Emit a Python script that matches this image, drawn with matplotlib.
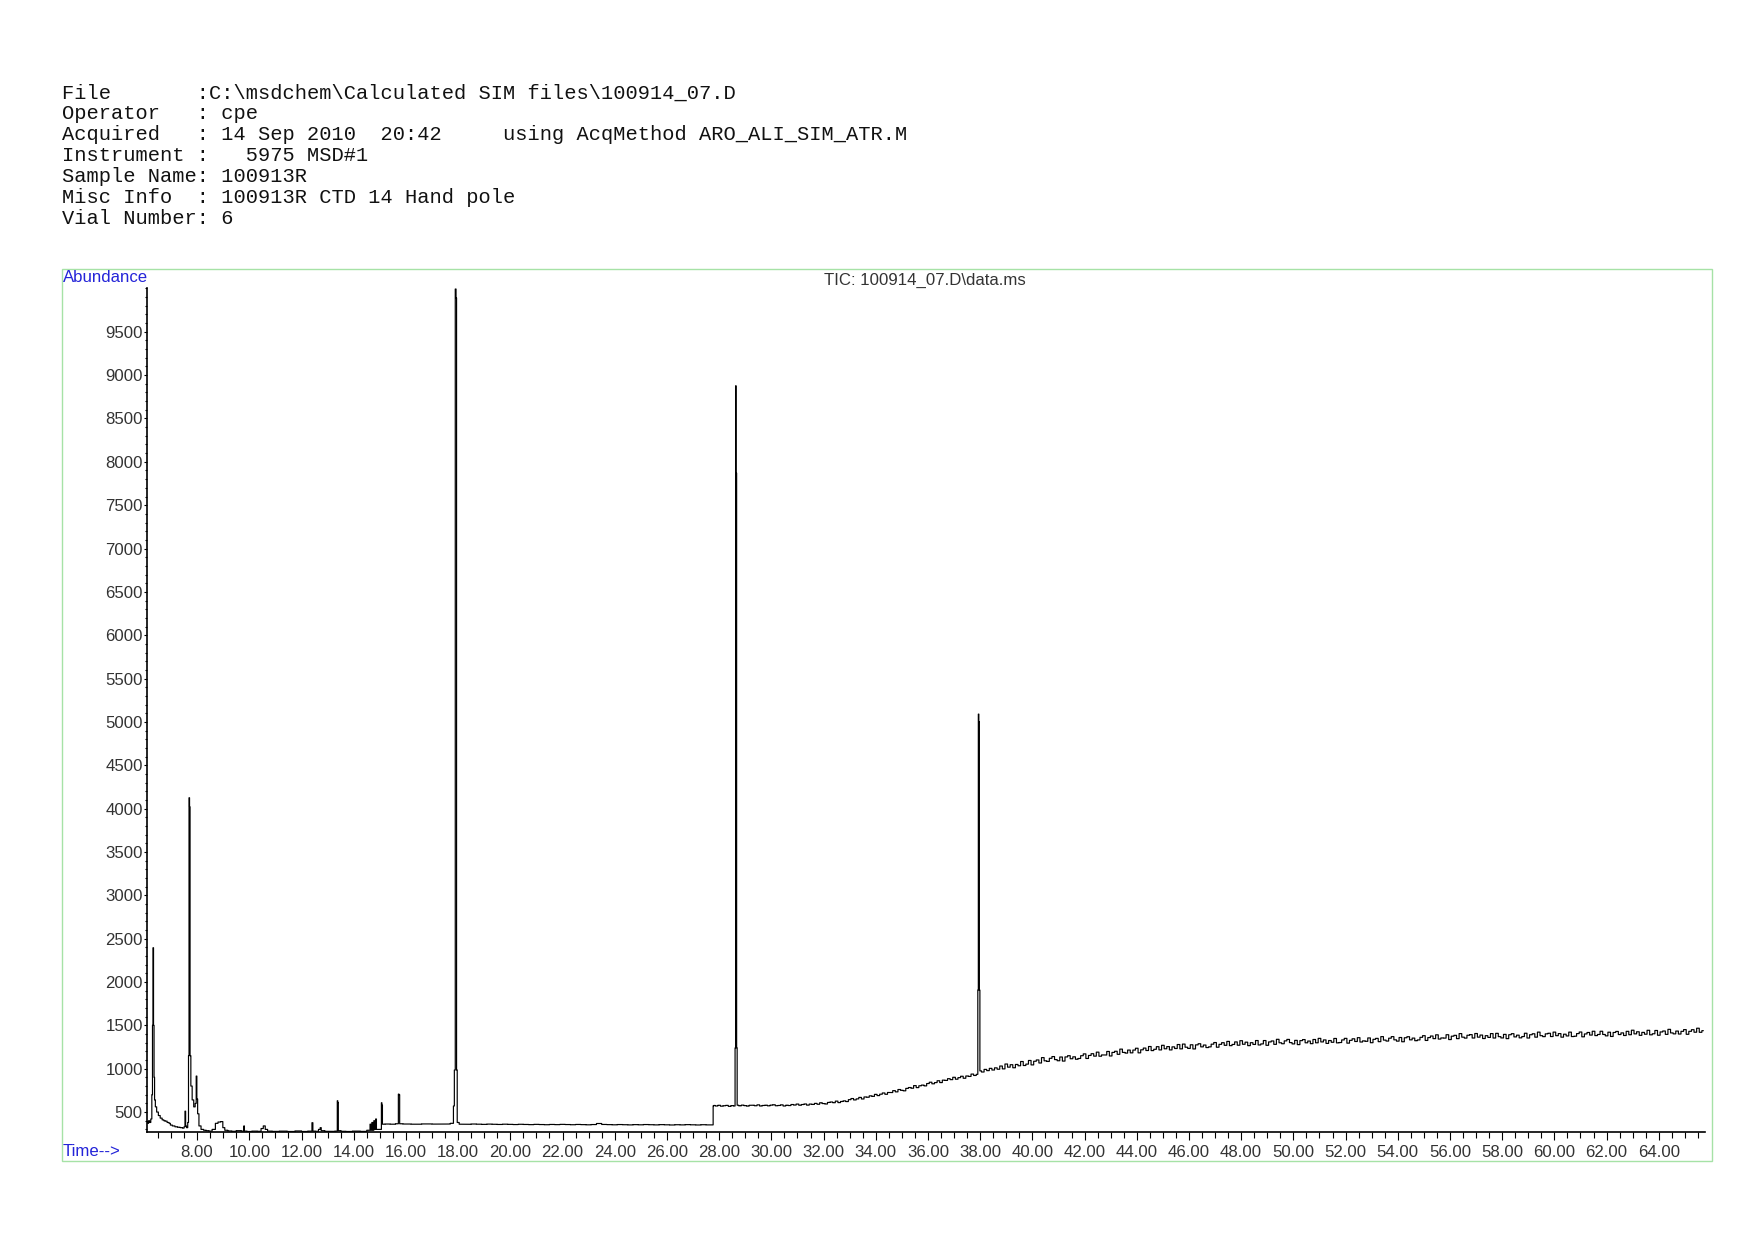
import numpy as np
import matplotlib
matplotlib.use('Agg')
import matplotlib.pyplot as plt
from matplotlib.patches import Rectangle

# header block of the report
header = [
    'File       :C:\\msdchem\\Calculated SIM files\\100914_07.D',
    'Operator   : cpe',
    'Acquired   : 14 Sep 2010  20:42     using AcqMethod ARO_ALI_SIM_ATR.M',
    'Instrument :   5975 MSD#1',
    'Sample Name: 100913R',
    'Misc Info  : 100913R CTD 14 Hand pole',
    'Vial Number: 6',
]
title = 'TIC: 100914_07.D\\data.ms'

# early part of the TIC (time in min, abundance)
early_t = [6.08, 6.12, 6.16, 6.20, 6.25, 6.28, 6.30, 6.32, 6.34, 6.36, 6.38, 6.42, 6.48, 6.55,
           6.62, 6.70, 6.75, 6.80, 6.90, 6.95, 7.00, 7.10, 7.20, 7.30, 7.40, 7.48, 7.52, 7.55,
           7.57, 7.62, 7.66, 7.68, 7.70, 7.72, 7.74, 7.78, 7.84, 7.90, 7.95, 7.98, 8.00, 8.04,
           8.10, 8.20, 8.30, 8.40, 8.50, 8.65, 8.75, 8.85, 8.95, 9.02, 9.10, 9.25, 9.40, 9.60,
           9.78, 9.80, 9.82, 10.00, 10.20, 10.40, 10.50, 10.57, 10.65, 10.75, 11.00, 11.30,
           11.60, 11.90, 12.10, 12.38, 12.42, 12.45, 12.60, 12.70, 12.73, 12.78, 13.00, 13.20,
           13.36, 13.38, 13.40, 13.42, 13.60, 13.80, 14.10, 14.40, 14.60, 14.65, 14.67, 14.72,
           14.74, 14.80, 14.82, 14.86, 14.88, 15.05, 15.07, 15.09, 15.11, 15.30, 15.50, 15.70,
           15.72, 15.75, 15.77, 16.00, 16.40, 16.80, 17.20, 17.60, 17.80, 17.84, 17.87, 17.91,
           17.93, 17.95, 17.98, 18.10]
early_v = [390, 370, 400, 380, 420, 700, 1500, 2395, 1500, 900, 640, 560, 500, 460,
           430, 410, 400, 395, 380, 370, 350, 340, 330, 325, 320, 315, 330, 510,
           340, 320, 380, 1150, 4125, 4020, 1150, 800, 640, 560, 600, 915, 650, 480,
           340, 300, 290, 285, 280, 300, 370, 385, 390, 320, 290, 282, 278, 285,
           280, 340, 280, 276, 280, 278, 310, 340, 300, 280, 277, 280,
           276, 282, 276, 280, 377, 280, 278, 300, 320, 285, 278, 277,
           280, 630, 610, 285, 278, 276, 280, 277, 290, 360, 290, 380,
           290, 400, 300, 420, 300, 300, 607, 580, 360, 362, 360, 365,
           707, 700, 365, 362, 360, 363, 361, 362, 370, 570, 985, 9993,
           9890, 985, 380, 360]

# flat stretch 18.2 - 27.6 min, one reading every 0.2 min
mid_t0, mid_dt = 18.2, 0.2
mid_v = [361, 359, 362, 360, 358, 361, 359, 357, 360, 358, 356, 359, 357, 355, 358, 356,
         354, 357, 355, 358, 356, 354, 357, 355, 353, 356, 368, 357, 355, 353, 356, 354,
         352, 355, 353, 356, 354, 352, 355, 353, 351, 354, 352, 355, 353, 351, 354, 352]

# rising baseline 27.8 - 65.7 min, one reading every 0.1 min
late_t0, late_dt = 27.8, 0.1
late_v = [
    576, 570, 578, 568, 573, 577, 566, 574, 570, 579,
    572, 580, 574, 569, 578, 579, 573, 583, 570, 576,
    579, 572, 580, 584, 573, 576, 583, 570, 579, 575,
    587, 581, 592, 579, 587, 593, 580, 592, 588, 600,
    590, 607, 598, 593, 611, 616, 608, 626, 609, 622,
    629, 621, 643, 656, 640, 652, 669, 651, 674, 671,
    687, 681, 704, 690, 706, 720, 705, 726, 725, 747,
    733, 760, 751, 745, 773, 783, 775, 805, 782, 803,
    811, 802, 829, 844, 826, 840, 861, 840, 868, 865,
    885, 874, 901, 879, 897, 913, 890, 916, 911, 938,
    922, 935, 975, 962, 992, 978, 1004, 985, 1010, 994,
    1031, 998, 1054, 1018, 1046, 1011, 1049, 1034, 1083, 1037,
    1053, 1095, 1044, 1086, 1101, 1066, 1128, 1091, 1084, 1120,
    1140, 1105, 1092, 1135, 1088, 1136, 1150, 1115, 1137, 1109,
    1118, 1150, 1171, 1118, 1153, 1173, 1145, 1191, 1144, 1159,
    1158, 1199, 1147, 1188, 1201, 1166, 1226, 1188, 1180, 1215,
    1183, 1215, 1236, 1183, 1218, 1238, 1210, 1256, 1209, 1224,
    1254, 1217, 1270, 1230, 1255, 1217, 1252, 1233, 1279, 1229,
    1284, 1248, 1234, 1276, 1228, 1275, 1288, 1252, 1273, 1244,
    1252, 1283, 1302, 1248, 1281, 1300, 1270, 1315, 1266, 1280,
    1309, 1271, 1323, 1282, 1306, 1266, 1300, 1280, 1325, 1274,
    1286, 1325, 1270, 1309, 1320, 1281, 1339, 1299, 1288, 1321,
    1338, 1301, 1286, 1327, 1278, 1324, 1336, 1299, 1319, 1289,
    1337, 1299, 1350, 1309, 1332, 1292, 1325, 1305, 1349, 1298,
    1302, 1332, 1350, 1295, 1327, 1345, 1314, 1358, 1308, 1321,
    1316, 1355, 1300, 1339, 1350, 1312, 1370, 1330, 1319, 1352,
    1370, 1333, 1318, 1360, 1311, 1357, 1369, 1333, 1353, 1323,
    1332, 1362, 1381, 1326, 1359, 1377, 1347, 1391, 1342, 1355,
    1353, 1392, 1336, 1375, 1385, 1347, 1405, 1364, 1353, 1386,
    1393, 1354, 1406, 1364, 1388, 1348, 1381, 1361, 1405, 1354,
    1408, 1370, 1355, 1396, 1347, 1392, 1404, 1367, 1387, 1356,
    1371, 1409, 1354, 1392, 1403, 1364, 1422, 1381, 1370, 1402,
    1409, 1371, 1422, 1381, 1405, 1364, 1398, 1378, 1422, 1371,
    1375, 1405, 1423, 1368, 1401, 1418, 1388, 1432, 1382, 1395,
    1432, 1395, 1379, 1421, 1372, 1418, 1430, 1394, 1413, 1383,
    1431, 1392, 1444, 1402, 1426, 1385, 1419, 1398, 1443, 1391,
    1403, 1441, 1386, 1424, 1435, 1396, 1454, 1413, 1402, 1434,
    1400, 1431, 1451, 1397, 1431, 1450, 1421, 1467, 1420, 1439,
]

# step at 27.77 min and the two late peaks (28.65 and 37.95 min)
event_t = [27.70, 27.76, 27.78, 28.62, 28.64, 28.66, 28.68, 37.92, 37.94, 37.96, 37.98]
event_v = [352, 352, 572, 1240, 8877, 7870, 1240, 1907, 5090, 5003, 1907]

mid_t = mid_t0 + mid_dt * np.arange(len(mid_v))
late_t = late_t0 + late_dt * np.arange(len(late_v))
t = np.concatenate([early_t, mid_t, late_t, event_t])
v = np.concatenate([early_v, mid_v, late_v, event_v])
order = np.argsort(t, kind='stable')
t, v = t[order], v[order]

W, H = 1754, 1240
fig = plt.figure(figsize=(W / 100, H / 100), dpi=100)

mono = 'Liberation Mono'
sans = 'Liberation Sans'
blue = '#2424d8'
grey = '#333333'

for i, line in enumerate(header):
    fig.text(62 / W, 1 - (93 + 20.85 * i) / H, line, family=mono, fontsize=14.7,
             va='center', ha='left', color='#111111')

fig.add_artist(Rectangle((62 / W, 1 - 1161 / H), 1650 / W, 892 / H, transform=fig.transFigure,
                         fill=False, edgecolor='#a6e2a6', lw=1.0))

ax = fig.add_axes([147 / W, 1 - 1132 / H, 1558 / W, 844 / H])
ax.plot(t, v, color='black', lw=0.85, drawstyle='steps-mid')

ax.set_xlim(6.08, 65.77)
ax.set_ylim(270, 10005)
ax.set_xticks(np.arange(8, 65, 2))
ax.set_xticks(np.arange(6.5, 65.8, 0.5), minor=True)
ax.set_xticklabels([f'{x:.2f}' for x in np.arange(8, 65, 2)])
ax.set_yticks(np.arange(500, 10000, 500))
ax.set_yticks(np.arange(300, 10001, 100), minor=True)

for s in ['top', 'right']:
    ax.spines[s].set_visible(False)
for s in ['left', 'bottom']:
    ax.spines[s].set_linewidth(1.2)

fs = 12.1
ax.tick_params(axis='x', which='major', direction='out', length=6, width=0.8, pad=3.5,
               labelsize=fs, labelcolor=grey)
ax.tick_params(axis='x', which='minor', direction='out', length=4.3, width=0.8)
ax.tick_params(axis='y', which='major', direction='out', length=2, width=0.8, pad=1,
               labelsize=fs, labelcolor=grey)
ax.tick_params(axis='y', which='minor', direction='out', length=1.5, width=0.8)
for lab in ax.get_xticklabels() + ax.get_yticklabels():
    lab.set_family(sans)

fig.text(63 / W, 1 - 278 / H, 'Abundance', family=sans, fontsize=fs, color=blue,
         va='center', ha='left')
fig.text(63 / W, 1 - 1151 / H, 'Time-->', family=sans, fontsize=fs, color=blue,
         va='center', ha='left')
fig.text(925 / W, 1 - 280 / H, title, family=sans, fontsize=fs, color=grey,
         va='center', ha='center')

fig.savefig('out.png', dpi=100)
